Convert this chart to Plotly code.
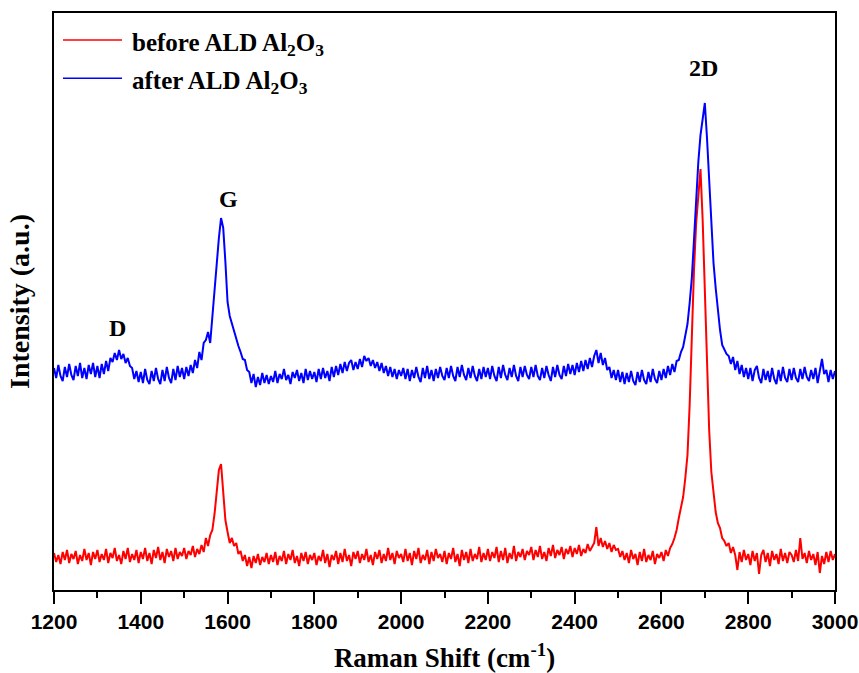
import plotly.graph_objects as go

# Raman shift grid (cm^-1), sampled every 5 cm^-1
shift = list(range(1200, 3001, 5))

# Intensity (a.u.) before ALD Al2O3, rows of 100 cm^-1
before_ald = [
    37, 28, 35, 26, 38, 30, 40, 27, 36, 31, 39, 26, 35, 29, 41, 30, 37, 25, 38, 31,          # 1200
    40, 28, 36, 30, 41, 27, 37, 32, 42, 29, 35, 26, 39, 31, 42, 28, 36, 30, 40, 27,          # 1300
    38, 31, 42, 29, 37, 26, 40, 32, 43, 30, 38, 27, 41, 33, 39, 29, 42, 31, 38, 34,          # 1400
    42, 31, 39, 35, 44, 33, 41, 36, 45, 38, 52, 44, 55, 60, 76, 98, 120, 126, 100, 70,       # 1500
    58, 47, 52, 44, 47, 36, 39, 29, 35, 24, 33, 22, 34, 27, 36, 25, 33, 28, 37, 26,          # 1600
    35, 28, 38, 25, 34, 29, 39, 26, 36, 30, 40, 27, 34, 24, 37, 29, 38, 26, 35, 30,          # 1700
    37, 25, 34, 29, 40, 27, 36, 23, 35, 30, 39, 26, 37, 28, 41, 29, 35, 24, 38, 31,          # 1800
    39, 27, 36, 30, 41, 28, 35, 25, 38, 31, 40, 27, 36, 29, 42, 30, 37, 26, 39, 32,          # 1900
    36, 28, 41, 29, 37, 25, 39, 31, 42, 27, 35, 30, 40, 26, 38, 29, 41, 32, 36, 28,          # 2000
    39, 26, 37, 31, 42, 28, 36, 24, 40, 30, 38, 27, 41, 29, 36, 31, 43, 28, 37, 30,          # 2100
    41, 29, 38, 32, 43, 28, 39, 30, 42, 27, 37, 31, 44, 29, 38, 33, 41, 30, 39, 35,          # 2200
    43, 30, 40, 33, 44, 31, 38, 29, 42, 34, 45, 32, 40, 35, 43, 31, 41, 36, 44, 33,          # 2300
    42, 36, 45, 34, 41, 37, 46, 39, 43, 47, 63, 44, 52, 43, 49, 41, 47, 38, 45, 40,          # 2400
    41, 33, 39, 30, 37, 27, 40, 31, 36, 25, 38, 29, 41, 28, 35, 30, 39, 26, 36, 32,          # 2500
    38, 29, 40, 34, 42, 46, 52, 60, 72, 82, 93, 112, 135, 185, 255, 320, 367, 398, 421, 370, # 2600
    300, 228, 160, 118, 94, 78, 67, 62, 52, 49, 44, 47, 37, 43, 35, 20, 38, 28, 40, 30,      # 2700
    36, 25, 39, 29, 37, 16, 35, 40, 28, 37, 24, 39, 30, 36, 26, 41, 29, 37, 27, 38,          # 2800
    35, 28, 40, 29, 52, 31, 37, 27, 39, 30, 36, 25, 38, 17, 34, 26, 38, 28, 39, 30,          # 2900
    36,                                                                                      # 3000
]

# Intensity (a.u.) after ALD Al2O3, rows of 100 cm^-1
after_ald = [
    222, 212, 225, 214, 209, 223, 213, 226, 215, 210, 224, 214, 227, 212, 222, 211, 225, 216, 227, 213,  # 1200
    224, 212, 226, 216, 229, 219, 232, 228, 237, 230, 240, 231, 236, 227, 232, 224, 222, 211, 219, 208,  # 1300
    218, 207, 221, 210, 206, 219, 209, 222, 211, 206, 220, 209, 223, 212, 207, 221, 210, 224, 213, 222,  # 1400
    211, 223, 214, 225, 217, 230, 222, 238, 230, 247, 250, 258, 247, 275, 300, 325, 352, 372, 362, 328,  # 1500
    288, 274, 266, 258, 252, 244, 238, 231, 230, 220, 218, 207, 216, 203, 213, 205, 217, 207, 215, 206,  # 1600
    214, 208, 219, 207, 216, 211, 221, 210, 215, 206, 218, 212, 220, 209, 217, 207, 221, 210, 219, 211,  # 1700
    218, 208, 221, 211, 222, 212, 219, 209, 223, 213, 224, 215, 226, 217, 228, 219, 227, 230, 220, 228,  # 1800
    221, 231, 223, 234, 229, 232, 224, 230, 222, 228, 219, 227, 217, 224, 214, 223, 213, 221, 211, 220,  # 1900
    214, 222, 211, 221, 209, 220, 212, 223, 213, 208, 222, 212, 224, 211, 220, 209, 221, 212, 223, 214,  # 2000
    210, 222, 212, 224, 214, 209, 223, 213, 225, 215, 210, 222, 212, 224, 214, 209, 221, 211, 223, 213,  # 2100
    222, 211, 224, 214, 209, 223, 212, 225, 215, 210, 222, 213, 225, 214, 209, 223, 213, 224, 215, 211,  # 2200
    223, 213, 225, 214, 210, 222, 212, 224, 215, 209, 223, 213, 225, 215, 211, 224, 214, 226, 216, 225,  # 2300
    215, 227, 218, 229, 219, 230, 221, 232, 223, 234, 240, 227, 237, 225, 232, 220, 223, 212, 220, 210,  # 2400
    220, 208, 218, 206, 217, 208, 219, 209, 205, 218, 208, 220, 210, 206, 218, 208, 221, 211, 207, 219,  # 2500
    210, 221, 212, 224, 215, 226, 218, 229, 230, 238, 243, 254, 266, 287, 312, 350, 393, 428, 455, 474,  # 2600
    487, 452, 405, 360, 327, 302, 278, 260, 245, 240, 236, 234, 226, 233, 220, 229, 216, 225, 213, 222,  # 2700
    211, 222, 209, 220, 224, 212, 207, 221, 210, 219, 208, 222, 211, 206, 220, 209, 223, 212, 208, 221,  # 2800
    210, 222, 212, 208, 221, 211, 223, 213, 209, 220, 211, 222, 207, 219, 231, 216, 220, 208, 220, 211,  # 2900
    219,                                                                                                 # 3000
]

assert len(before_ald) == len(shift) and len(after_ald) == len(shift)

# Peak labels: (text, Raman shift, intensity)
peak_labels = [("D", 1347, 262), ("G", 1603, 391), ("2D", 2696, 522)]

series_names = ["before ALD Al<sub>2</sub>O<sub>3</sub>", "after ALD Al<sub>2</sub>O<sub>3</sub>"]
series_colors = ["#ff0000", "#0000ff"]

serif = "Liberation Serif"
sans = "Liberation Sans"

fig = go.Figure()
fig.add_trace(go.Scatter(x=shift, y=before_ald, mode="lines", name=series_names[0],
                         line=dict(color=series_colors[0], width=2), showlegend=False))
fig.add_trace(go.Scatter(x=shift, y=after_ald, mode="lines", name=series_names[1],
                         line=dict(color=series_colors[1], width=2), showlegend=False))

# Peak annotations
for text, xv, yv in peak_labels:
    fig.add_annotation(x=xv, y=yv, xref="x", yref="y", text=text, showarrow=False,
                       font=dict(family=serif, size=24, color="black", weight="bold"))

# Legend drawn as short line samples with labels, top-left inside the frame
legend_rows = [0.953, 0.887]
for name, color, yrow in zip(series_names, series_colors, legend_rows):
    fig.add_shape(type="line", xref="paper", yref="paper", x0=0.0115, x1=0.0871,
                  y0=yrow, y1=yrow, line=dict(color=color, width=1.5))
    fig.add_annotation(x=0.0973, y=yrow, xref="paper", yref="paper", text=name,
                       showarrow=False, xanchor="left", yanchor="middle", yshift=-4,
                       font=dict(family=serif, size=25, color="black", weight="bold"))

fig.update_layout(
    width=859, height=673,
    margin=dict(l=54, r=24, t=13, b=83),
    paper_bgcolor="white", plot_bgcolor="white",
    showlegend=False,
)

fig.update_xaxes(
    range=[1200, 3000],
    tickvals=[1200, 1400, 1600, 1800, 2000, 2200, 2400, 2600, 2800, 3000],
    ticks="outside", ticklen=12, tickwidth=2, tickcolor="black",
    minor=dict(dtick=100, ticks="outside", ticklen=6, tickwidth=2, tickcolor="black"),
    showline=True, linewidth=2, linecolor="black", mirror=True,
    showgrid=False, zeroline=False,
    tickfont=dict(family=sans, size=21, color="black", weight="bold"),
    title=dict(text="Raman Shift (cm<sup>-1</sup>)", standoff=18,
               font=dict(family=serif, size=27, color="black", weight="bold")),
    automargin=False,
)
fig.update_yaxes(
    range=[0, 577],
    showticklabels=False, ticks="",
    showline=True, linewidth=2, linecolor="black", mirror=True,
    showgrid=False, zeroline=False,
    title=dict(text="Intensity (a.u.)", standoff=14,
               font=dict(family=serif, size=28, color="black", weight="bold")),
    automargin=False,
)

fig.write_html("out.html")
